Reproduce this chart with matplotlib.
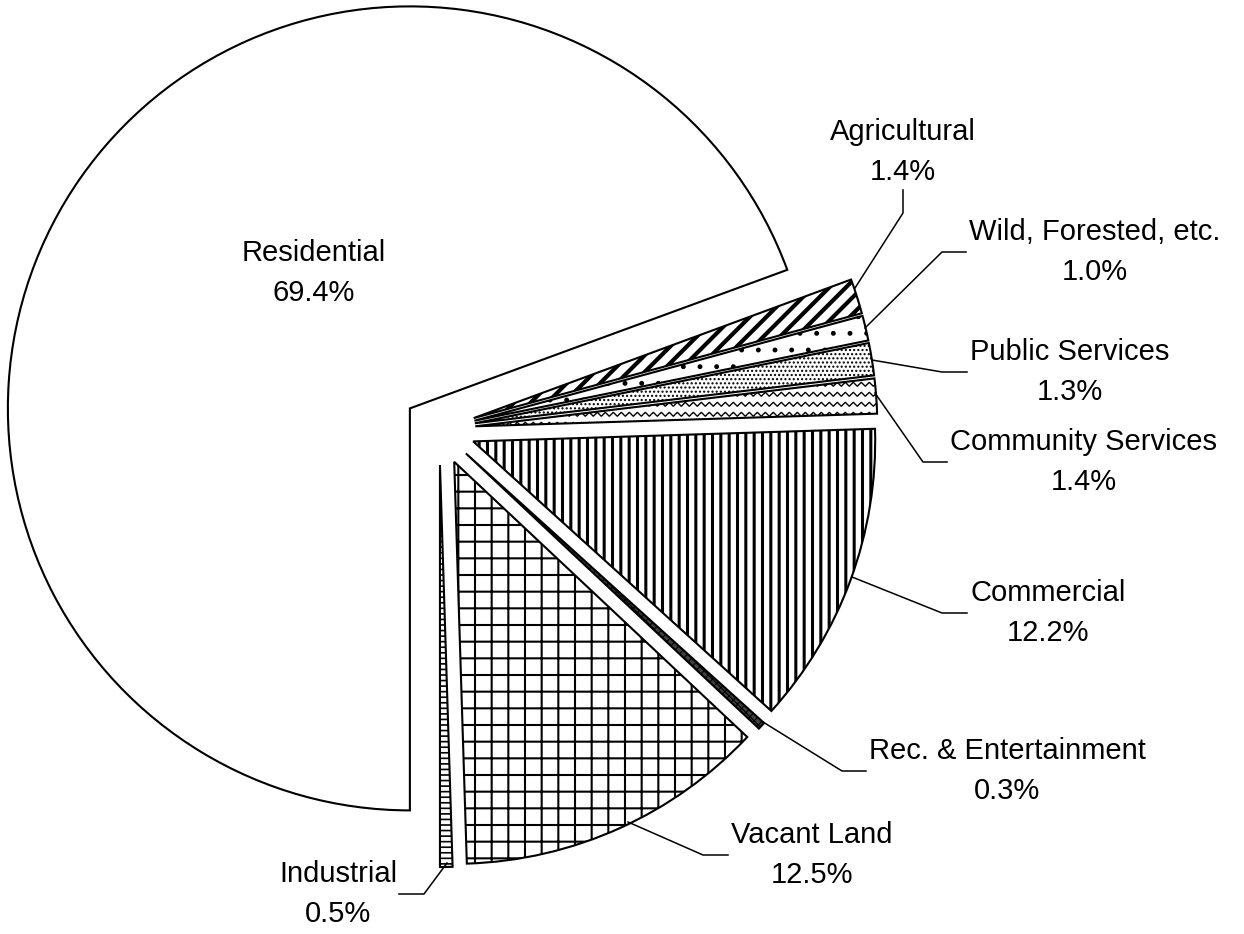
import numpy as np
import matplotlib
matplotlib.use("Agg")
import matplotlib.pyplot as plt

# ---- data ----
categories = ["Residential", "Industrial", "Vacant Land", "Rec. & Entertainment",
              "Commercial", "Community Services", "Public Services",
              "Wild, Forested, etc.", "Agricultural"]
shares = [69.4, 0.5, 12.5, 0.3, 12.2, 1.4, 1.3, 1.0, 1.4]

# ---- styles ----
facecolors = ["white", "white", "white", "#404040", "white", "white", "white", "white", "white"]
hatches = ["", "---", "+", "xxxx", "||", "", "....", ".", "//"]
hatch_lws = [1.0, 1.2, 1.5, 0.8, 2.2, 1.0, 1.0, 1.1, 3.0]

W, H = 1244, 934
plt.rcParams["font.family"] = ["Liberation Sans", "DejaVu Sans"]

fig = plt.figure(figsize=(W / 100, H / 100), dpi=100)
ax = fig.add_axes([0, 0, 1, 1])


def P(x, y):
    return (x, H - y)


center = P(439.4, 429)
radius = 402
start = 270 - 360 * shares[0] / sum(shares)

wedges, _ = ax.pie(shares, explode=[36] * len(shares), radius=radius, center=center,
                   startangle=start, counterclock=True, colors=facecolors,
                   wedgeprops=dict(edgecolor="black", linewidth=1.5))

for w, h, lw in zip(wedges, hatches, hatch_lws):
    if h:
        w.set_hatch(h)
        if hasattr(w, "set_hatch_linewidth"):
            w.set_hatch_linewidth(lw)

# zigzag texture for Community Services
comm = wedges[categories.index("Community Services")]
bb = comm.get_path().get_extents()
xs = np.arange(bb.x0 - 10, bb.x1 + 10, 4.0)
for yb in np.arange(bb.y0 - 10, bb.y1 + 10, 10.0):
    ys = yb + np.where((np.arange(len(xs)) % 2) == 0, 0.0, 4.0)
    ln, = ax.plot(xs, ys, color="black", lw=1.0, solid_joinstyle="miter")
    ln.set_clip_path(comm)

# ---- label layout (pixel coords) ----
fs = 21
ls = 1.55
leaders = {
    "Agricultural": [(855, 288), (903, 213), (903, 190)],
    "Wild, Forested, etc.": [(865, 328), (942, 252), (966, 252)],
    "Public Services": [(872, 360), (942, 372), (967, 372)],
    "Community Services": [(875, 393), (923, 462), (947, 462)],
    "Commercial": [(852, 577), (942, 613), (967, 613)],
    "Rec. & Entertainment": [(763, 722), (842, 771), (866, 771)],
    "Vacant Land": [(628, 822), (703, 855), (728, 855)],
    "Industrial": [(447, 863), (424, 894), (399, 894)],
}

for cat, val in zip(categories, shares):
    txt = f"{cat}\n{val:.1f}%"
    kw = dict(fontsize=fs, multialignment="center", linespacing=ls)
    if cat == "Residential":
        ax.text(*P(314, 273), txt, ha="center", va="center", **kw)
        continue
    pts = leaders[cat]
    ax.plot([p[0] for p in pts], [H - p[1] for p in pts], color="black", lw=1.1)
    ex, ey = pts[-1]
    if cat == "Agricultural":
        ax.text(*P(ex, ey - 4), txt, ha="center", va="bottom", **kw)
    elif cat == "Industrial":
        ax.text(*P(ex - 2, ey), txt, ha="right", va="center", **kw)
    else:
        ax.text(*P(ex + 3, ey), txt, ha="left", va="center", **kw)

ax.set_xlim(0, W)
ax.set_ylim(0, H)
ax.set_aspect("equal")
ax.axis("off")
fig.savefig("out.png", dpi=100, facecolor="white")
